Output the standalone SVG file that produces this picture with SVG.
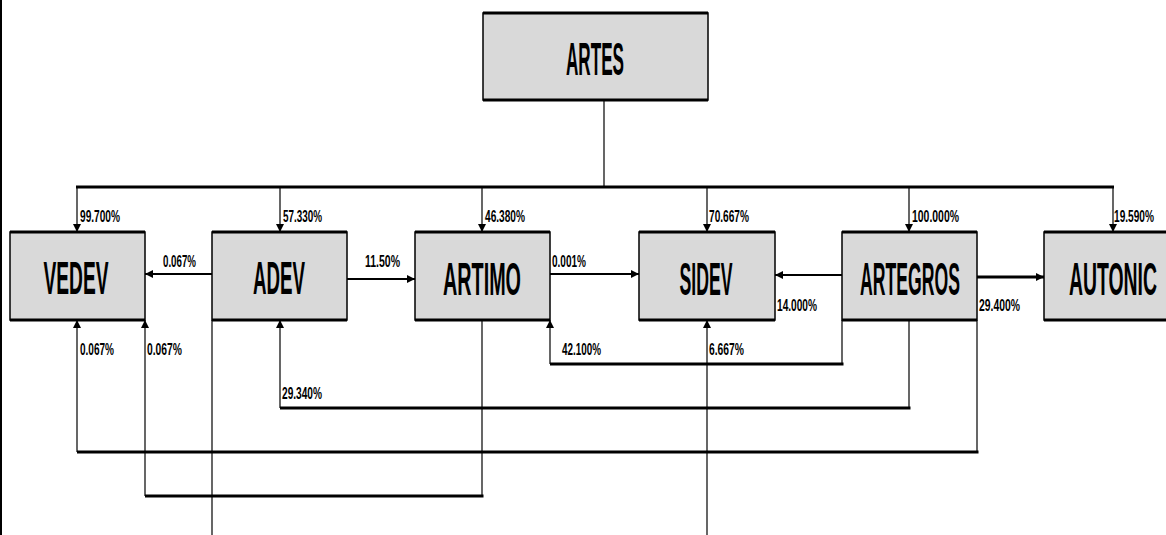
<svg xmlns="http://www.w3.org/2000/svg" width="1166" height="535" viewBox="0 0 1166 535">
<style>
.box{fill:#d9d9d9;stroke:#000;stroke-width:1.5}
.edge{stroke:#000;stroke-width:3}
.name{font-family:"Liberation Sans",Arial,sans-serif;font-weight:bold;font-size:47px;fill:#000;text-anchor:middle}
.lbl{font-family:"Liberation Sans",Arial,sans-serif;font-weight:bold;font-size:17px;fill:#000}
.thin{stroke:#000;stroke-width:1.2;fill:none}
.thick{stroke:#000;stroke-width:3;fill:none}
.mid{stroke:#000;stroke-width:2;fill:none}
</style>
<defs>
<marker id="ah" viewBox="0 0 10 10" refX="10" refY="5" markerUnits="userSpaceOnUse" markerWidth="8" markerHeight="11" orient="auto">
<path d="M0,0 L10,5 L0,10 z" fill="#000"/>
</marker>
</defs>
<rect x="0" y="0" width="1166" height="535" fill="#fff"/>
<line x1="1" y1="0" x2="1" y2="535" stroke="#000" stroke-width="2"/>

<g id="connectors">
<!-- ARTES to bus -->
<line class="thin" x1="604" y1="100" x2="604" y2="187"/>
<line class="thick" x1="76" y1="187" x2="1114" y2="187"/>
<!-- drops -->
<line class="thin" x1="77" y1="187" x2="77" y2="232" marker-end="url(#ah)"/>
<line class="thin" x1="280" y1="187" x2="280" y2="232" marker-end="url(#ah)"/>
<line class="thin" x1="482" y1="187" x2="482" y2="232" marker-end="url(#ah)"/>
<line class="thin" x1="707" y1="187" x2="707" y2="232" marker-end="url(#ah)"/>
<line class="thin" x1="909" y1="187" x2="909" y2="232" marker-end="url(#ah)"/>
<line class="thin" x1="1113" y1="187" x2="1113" y2="232" marker-end="url(#ah)"/>
<!-- horizontal arrows -->
<line class="mid" x1="212" y1="274" x2="145" y2="274" marker-end="url(#ah)"/>
<line class="mid" x1="347" y1="279" x2="415" y2="279" marker-end="url(#ah)"/>
<line class="mid" x1="550" y1="274" x2="639" y2="274" marker-end="url(#ah)"/>
<line class="mid" x1="842" y1="275" x2="775" y2="275" marker-end="url(#ah)"/>
<line class="thick" x1="977" y1="277" x2="1044" y2="277" marker-end="url(#ah)"/>
<!-- ARTEGROS -> ARTIMO -->
<line class="thin" x1="842" y1="320" x2="842" y2="364"/>
<line class="thick" x1="550" y1="364" x2="843.5" y2="364"/>
<line class="thin" x1="550" y1="364" x2="550" y2="320" marker-end="url(#ah)"/>
<!-- ARTEGROS -> ADEV -->
<line class="thin" x1="909" y1="320" x2="909" y2="408"/>
<line class="thick" x1="280" y1="408" x2="910.5" y2="408"/>
<line class="thin" x1="280" y1="408" x2="280" y2="320" marker-end="url(#ah)"/>
<!-- ARTEGROS -> VEDEV -->
<line class="thin" x1="977" y1="320" x2="977" y2="452"/>
<line class="thick" x1="77" y1="452" x2="978.5" y2="452"/>
<line class="thin" x1="77" y1="452" x2="77" y2="320" marker-end="url(#ah)"/>
<!-- ARTIMO -> VEDEV -->
<line class="thin" x1="482" y1="320" x2="482" y2="496"/>
<line class="thick" x1="145" y1="496" x2="483.5" y2="496"/>
<line class="thin" x1="145" y1="496" x2="145" y2="320" marker-end="url(#ah)"/>
<!-- ADEV down -->
<line class="thin" x1="212" y1="320" x2="212" y2="535"/>
<!-- up to SIDEV -->
<line class="thin" x1="707" y1="535" x2="707" y2="320" marker-end="url(#ah)"/>
</g>

<g id="labels">
<text class="lbl" x="80" y="222" textLength="40" lengthAdjust="spacingAndGlyphs">99.700%</text>
<text class="lbl" x="283" y="222" textLength="39" lengthAdjust="spacingAndGlyphs">57.330%</text>
<text class="lbl" x="485" y="222" textLength="40" lengthAdjust="spacingAndGlyphs">46.380%</text>
<text class="lbl" x="709" y="222" textLength="40" lengthAdjust="spacingAndGlyphs">70.667%</text>
<text class="lbl" x="912" y="222" textLength="47" lengthAdjust="spacingAndGlyphs">100.000%</text>
<text class="lbl" x="1114" y="222" textLength="40" lengthAdjust="spacingAndGlyphs">19.590%</text>
<text class="lbl" x="163" y="267" textLength="33" lengthAdjust="spacingAndGlyphs">0.067%</text>
<text class="lbl" x="365" y="267" textLength="35" lengthAdjust="spacingAndGlyphs">11.50%</text>
<text class="lbl" x="552" y="267" textLength="34" lengthAdjust="spacingAndGlyphs">0.001%</text>
<text class="lbl" x="777" y="311" textLength="40" lengthAdjust="spacingAndGlyphs">14.000%</text>
<text class="lbl" x="979" y="311" textLength="41" lengthAdjust="spacingAndGlyphs">29.400%</text>
<text class="lbl" x="80" y="355" textLength="34" lengthAdjust="spacingAndGlyphs">0.067%</text>
<text class="lbl" x="147" y="355" textLength="35" lengthAdjust="spacingAndGlyphs">0.067%</text>
<text class="lbl" x="562" y="355" textLength="39" lengthAdjust="spacingAndGlyphs">42.100%</text>
<text class="lbl" x="709" y="355" textLength="35" lengthAdjust="spacingAndGlyphs">6.667%</text>
<text class="lbl" x="282" y="399" textLength="40" lengthAdjust="spacingAndGlyphs">29.340%</text>
</g>

<g id="ARTES">
<rect class="box" x="483" y="13" width="225" height="87"/>
<line class="edge" x1="483" y1="13" x2="708" y2="13"/>
<line class="edge" x1="483" y1="100" x2="708" y2="100"/>
<text class="name" x="595" y="75" textLength="58" lengthAdjust="spacingAndGlyphs">ARTES</text>
</g>
<g id="VEDEV">
<rect class="box" x="10" y="232" width="135" height="88"/>
<line class="edge" x1="10" y1="232" x2="145" y2="232"/>
<line class="edge" x1="10" y1="320" x2="145" y2="320"/>
<text class="name" x="76" y="294" textLength="65" lengthAdjust="spacingAndGlyphs">VEDEV</text>
</g>
<g id="ADEV">
<rect class="box" x="212" y="232" width="135" height="88"/>
<line class="edge" x1="212" y1="232" x2="347" y2="232"/>
<line class="edge" x1="212" y1="320" x2="347" y2="320"/>
<text class="name" x="279" y="294" textLength="52" lengthAdjust="spacingAndGlyphs">ADEV</text>
</g>
<g id="ARTIMO">
<rect class="box" x="415" y="232" width="135" height="88"/>
<line class="edge" x1="415" y1="232" x2="550" y2="232"/>
<line class="edge" x1="415" y1="320" x2="550" y2="320"/>
<text class="name" x="482" y="295" textLength="78" lengthAdjust="spacingAndGlyphs">ARTIMO</text>
</g>
<g id="SIDEV">
<rect class="box" x="639" y="232" width="136" height="88"/>
<line class="edge" x1="639" y1="232" x2="775" y2="232"/>
<line class="edge" x1="639" y1="320" x2="775" y2="320"/>
<text class="name" x="706" y="295" textLength="53" lengthAdjust="spacingAndGlyphs">SIDEV</text>
</g>
<g id="ARTEGROS">
<rect class="box" x="842" y="232" width="135" height="88"/>
<line class="edge" x1="842" y1="232" x2="977" y2="232"/>
<line class="edge" x1="842" y1="320" x2="977" y2="320"/>
<text class="name" x="910" y="295" textLength="100" lengthAdjust="spacingAndGlyphs">ARTEGROS</text>
</g>
<g id="AUTONIC">
<rect class="box" x="1044" y="232" width="135" height="88"/>
<line class="edge" x1="1044" y1="232" x2="1179" y2="232"/>
<line class="edge" x1="1044" y1="320" x2="1179" y2="320"/>
<text class="name" x="1113" y="295" textLength="88" lengthAdjust="spacingAndGlyphs">AUTONIC</text>
</g>
</svg>
